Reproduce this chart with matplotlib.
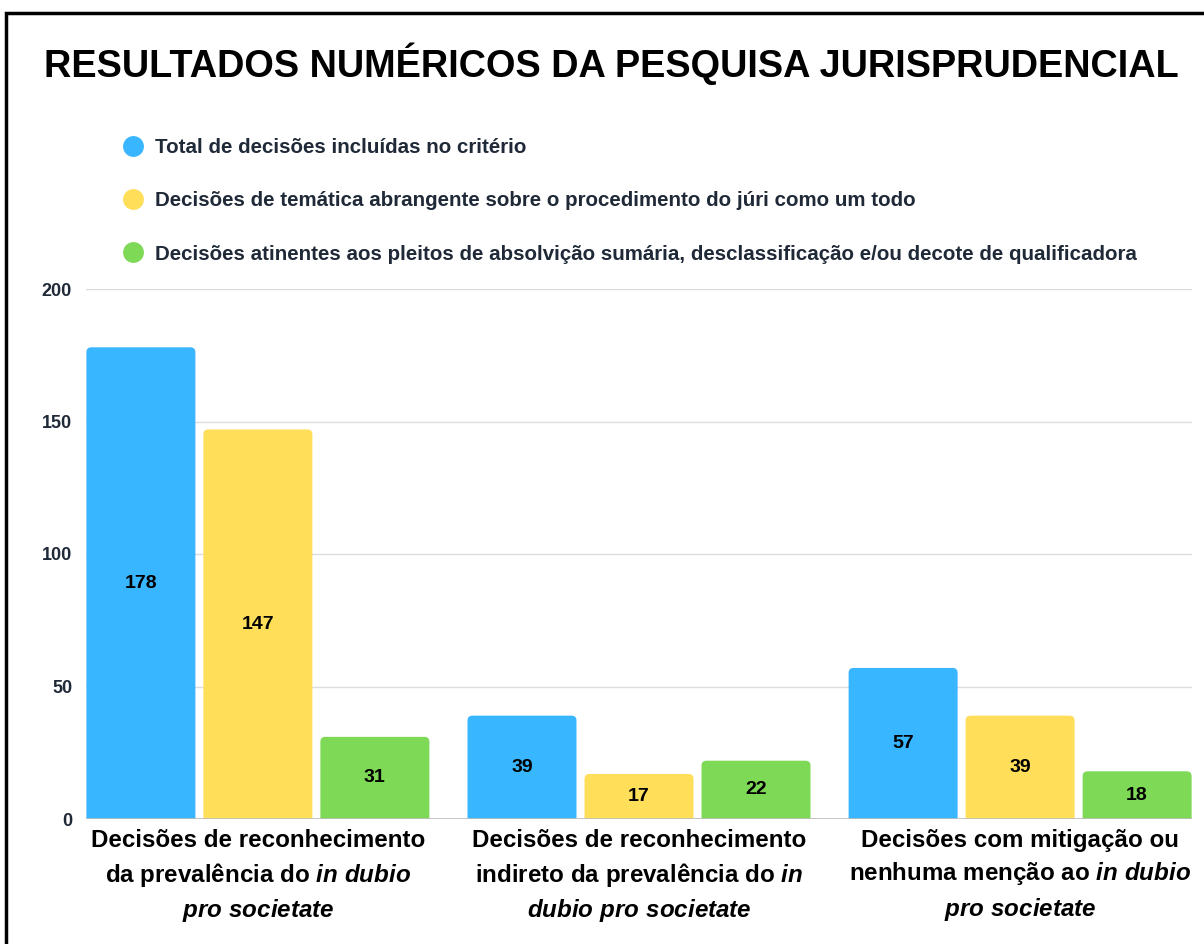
import matplotlib.pyplot as plt
from matplotlib.patches import FancyBboxPatch, Rectangle
from matplotlib.lines import Line2D
import numpy as np

# Fontes: Liberation Sans (Arial) e mathtext para o itálico em negrito
plt.rcParams['font.family'] = ['Liberation Sans', 'DejaVu Sans']
plt.rcParams['mathtext.fontset'] = 'custom'
plt.rcParams['mathtext.rm'] = 'Liberation Sans:bold'
plt.rcParams['mathtext.it'] = 'Liberation Sans:italic:bold'
plt.rcParams['mathtext.bf'] = 'Liberation Sans:bold'

# Dados
categorias = [
    'Decisões de reconhecimento\nda prevalência do $\\mathit{in\\ dubio}$\n$\\mathit{pro\\ societate}$',
    'Decisões de reconhecimento\nindireto da prevalência do $\\mathit{in}$\n$\\mathit{dubio\\ pro\\ societate}$',
    'Decisões com mitigação ou\nnenhuma menção ao $\\mathit{in\\ dubio}$\n$\\mathit{pro\\ societate}$',
]
series_nomes = [
    'Total de decisões incluídas no critério',
    'Decisões de temática abrangente sobre o procedimento do júri como um todo',
    'Decisões atinentes aos pleitos de absolvição sumária, desclassificação e/ou decote de qualificadora',
]
total = [178, 39, 57]
abrangente = [147, 17, 39]
atinentes = [31, 22, 18]
cores = ['#38B6FF', '#FFDE59', '#7ED957']

texto_escuro = '#1f2937'

fig = plt.figure(figsize=(12.04, 9.44), dpi=100)
ax = fig.add_axes([86 / 1204, 1 - 819 / 944, 1106 / 1204, 530 / 944])

x = np.arange(len(categorias))
largura = 0.286
passo = 0.307

for i, (valores, cor, nome) in enumerate(zip([total, abrangente, atinentes], cores, series_nomes)):
    cont = ax.bar(x + (i - 1) * passo, valores, largura, color=cor, label=nome, zorder=3)
    ax.bar_label(cont, label_type='center', fontsize=14, fontweight='bold',
                 color='black', zorder=6)
    # cantos superiores arredondados
    for r in cont.patches:
        fb = FancyBboxPatch((r.get_x(), r.get_y() - 3), r.get_width(), r.get_height() + 3,
                            boxstyle='round,pad=0,rounding_size=0.013',
                            mutation_aspect=143.8, facecolor=cor, edgecolor='none', zorder=3)
        ax.add_patch(fb)
        r.set_visible(False)

ax.set_xlim(-0.451, 2.451)
ax.set_ylim(0, 200)
ax.set_yticks([0, 50, 100, 150, 200])
ax.grid(axis='y', color='#dcdcdc', linewidth=1, zorder=0)
ax.axhline(0, color='#bdbdbd', linewidth=1.2, zorder=4)
for s in ax.spines.values():
    s.set_visible(False)
ax.tick_params(axis='both', length=0)
ax.tick_params(axis='y', pad=10, labelsize=13, labelcolor=texto_escuro)
for lbl in ax.get_yticklabels():
    lbl.set_fontweight('bold')

ax.set_xticks(x)
ax.set_xticklabels(categorias, fontsize=17.4, fontweight='bold', color='black', linespacing=1.42)
ax.tick_params(axis='x', pad=7)

# Título
fig.text(0.508, 1 - 64 / 944, 'RESULTADOS NUMÉRICOS DA PESQUISA JURISPRUDENCIAL',
         ha='center', va='center', fontsize=27.3, fontweight='bold', color='black')

# Legenda
handles = [Line2D([], [], marker='o', linestyle='none', markersize=15,
                  markerfacecolor=c, markeredgecolor='none') for c in cores]
leg = fig.legend(handles, series_nomes, loc='upper left',
                 bbox_to_anchor=(121 / 1204, 1 - 138 / 944), frameon=False,
                 prop={'size': 14.8, 'weight': 'bold'}, labelspacing=1.67,
                 handlelength=1.2, handletextpad=0.47, borderaxespad=0, borderpad=0)
for t in leg.get_texts():
    t.set_color(texto_escuro)

# Moldura
fig.patches.append(Rectangle((6 / 1204, -0.1), 1.2, 1.1 - 13 / 944,
                             transform=fig.transFigure, fill=False,
                             edgecolor='black', linewidth=2.5))

fig.savefig('out.png', dpi=100)
